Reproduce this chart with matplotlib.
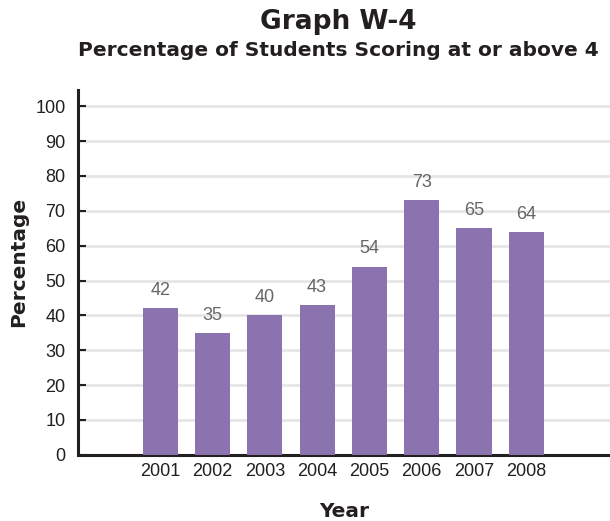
import matplotlib.pyplot as plt
import numpy as np

plt.rcParams['font.family'] = ['Liberation Sans', 'DejaVu Sans']

# scores per year
years = ["2001", "2002", "2003", "2004", "2005", "2006", "2007", "2008"]
percent = [42, 35, 40, 43, 54, 73, 65, 64]
yticks = [0, 10, 20, 30, 40, 50, 60, 70, 80, 90, 100]

bar_color = "#8b73b0"
label_color = "#666666"
text_color = "#231f20"
heavy = ["DejaVu Sans"]

fig = plt.figure(figsize=(6.1, 5.21), dpi=100)
ax = fig.add_axes([0.128, 0.127, 0.872, 0.70])

x = np.arange(len(years))
bars = ax.bar(x, percent, width=0.67, color=bar_color, zorder=3)

for b, v in zip(bars, percent):
    ax.text(b.get_x() + b.get_width() / 2, v + 2.6, str(v),
            ha="center", va="bottom", fontsize=13, color=label_color)

ax.set_xlim(-1.57, 8.6)
ax.set_ylim(0, 104.6)
ax.set_xticks(x)
ax.set_xticklabels(years)
ax.set_yticks(yticks)

ax.grid(axis="y", color="#e6e6e6", linewidth=2, zorder=0)
for side in ["top", "right"]:
    ax.spines[side].set_visible(False)
ax.spines["left"].set_linewidth(2.2)
ax.spines["bottom"].set_linewidth(2.2)
ax.spines["left"].set_color(text_color)
ax.spines["bottom"].set_color(text_color)

ax.tick_params(axis="y", direction="in", length=6, width=1.5, color=text_color,
               labelsize=13, labelcolor=text_color, pad=9)
ax.tick_params(axis="x", length=0, labelsize=13, labelcolor=text_color, pad=6)

ax.set_ylabel("Percentage", fontsize=14.5, fontweight="bold", color=text_color,
              family=heavy)
ax.set_xlabel("Year", fontsize=14.5, fontweight="bold", color=text_color,
              family=heavy)
ax.yaxis.set_label_coords(-0.094, 0.53)
ax.xaxis.set_label_coords(0.5, -0.128)

fig.text(0.555, 0.957, "Graph W-4", ha="center", va="center",
         fontsize=19, fontweight="bold", color=text_color, family=heavy)
fig.text(0.555, 0.904, "Percentage of Students Scoring at or above 4", ha="center",
         va="center", fontsize=14.5, fontweight="bold", color=text_color, family=heavy)

fig.savefig("out.png", dpi=100)
